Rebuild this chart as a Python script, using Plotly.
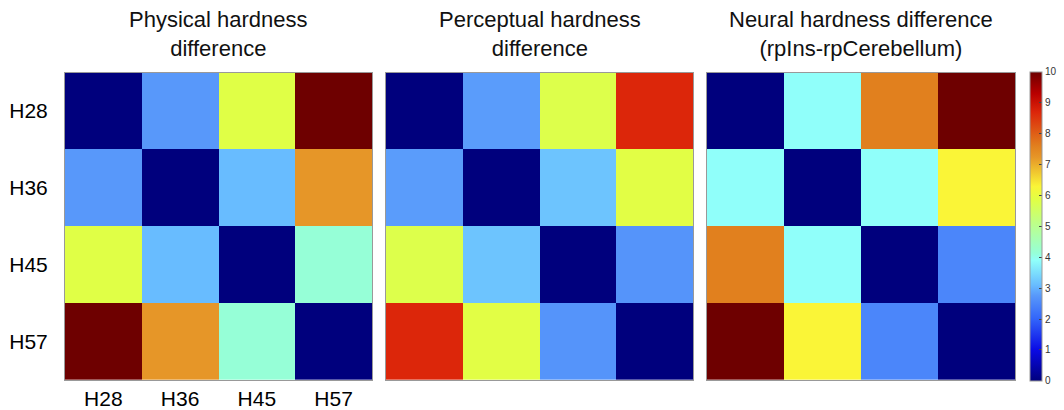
import plotly.graph_objects as go

labels = ["H28", "H36", "H45", "H57"]

physical = [
    [0.0, 2.76, 5.86, 10.0],
    [2.76, 0.0, 3.10, 7.24],
    [5.86, 3.10, 0.0, 4.14],
    [10.0, 7.24, 4.14, 0.0],
]
perceptual = [
    [0.0, 2.8, 5.8, 8.7],
    [2.8, 0.0, 3.2, 5.9],
    [5.8, 3.2, 0.0, 2.7],
    [8.7, 5.9, 2.7, 0.0],
]
neural = [
    [0.0, 3.9, 7.6, 10.0],
    [3.9, 0.0, 3.9, 6.3],
    [7.6, 3.9, 0.0, 2.5],
    [10.0, 6.3, 2.5, 0.0],
]
titles = [
    "Physical hardness<br>difference",
    "Perceptual hardness<br>difference",
    "Neural hardness difference<br>(rpIns-rpCerebellum)",
]
cbar_ticks = list(range(0, 11))

# soft jet-like colour map
jet_soft = [
    [0.00, "rgb(0,0,125)"],
    [0.10, "rgb(10,10,228)"],
    [0.20, "rgb(50,100,250)"],
    [0.276, "rgb(88,152,250)"],
    [0.31, "rgb(104,188,255)"],
    [0.39, "rgb(144,255,250)"],
    [0.414, "rgb(150,255,215)"],
    [0.50, "rgb(185,255,145)"],
    [0.586, "rgb(224,255,70)"],
    [0.63, "rgb(250,245,55)"],
    [0.724, "rgb(230,150,40)"],
    [0.76, "rgb(225,128,30)"],
    [0.87, "rgb(220,38,10)"],
    [0.93, "rgb(185,0,0)"],
    [1.00, "rgb(110,0,0)"],
]

W, H = 1064, 410
panel_px = [(65, 372), (386, 693), (707, 1015)]
y_top, y_bot = 73, 382
y_dom = [(H - y_bot) / H, (H - y_top) / H]

FONT = "Liberation Sans, Arial, Helvetica, sans-serif"

fig = go.Figure()
layout = dict(
    width=W, height=H,
    margin=dict(l=0, r=0, t=0, b=0),
    paper_bgcolor="white", plot_bgcolor="white",
    font=dict(family=FONT, color="black"),
    annotations=[],
)

for i, (z, (x0, x1), title) in enumerate(zip([physical, perceptual, neural], panel_px, titles)):
    xa = "x" if i == 0 else f"x{i+1}"
    ya = "y" if i == 0 else f"y{i+1}"
    fig.add_trace(go.Heatmap(
        z=z, x=labels, y=labels,
        xaxis=xa, yaxis=ya,
        zmin=0, zmax=10,
        colorscale=jet_soft,
        showscale=(i == 2),
        colorbar=dict(
            x=1030 / W, xanchor="left", xpad=0, ypad=0,
            y=(y_dom[0] + y_dom[1]) / 2, yanchor="middle",
            len=y_bot - y_top, lenmode="pixels",
            thickness=12, thicknessmode="pixels",
            outlinecolor="#999", outlinewidth=1,
            tickvals=cbar_ticks, ticks="inside", ticklen=3,
            tickcolor="#444",
            tickfont=dict(size=10, color="#333", family=FONT),
        ),
        hoverongaps=False,
    ))
    kx = "xaxis" if i == 0 else f"xaxis{i+1}"
    ky = "yaxis" if i == 0 else f"yaxis{i+1}"
    layout[kx] = dict(
        domain=[x0 / W, x1 / W], anchor=ya,
        showticklabels=(i == 0), ticks="",
        tickfont=dict(size=21),
        showline=True, mirror=True, linecolor="#999", linewidth=1,
        showgrid=False, zeroline=False, fixedrange=True,
    )
    layout[ky] = dict(
        domain=list(y_dom), anchor=xa,
        autorange="reversed",
        showticklabels=(i == 0), ticks="",
        tickfont=dict(size=21), ticklabelstandoff=12,
        showline=True, mirror=True, linecolor="#999", linewidth=1,
        showgrid=False, zeroline=False, fixedrange=True,
    )
    layout["annotations"].append(dict(
        text=title, xref="paper", yref="paper",
        x=(x0 + x1) / 2 / W, y=(H - 63) / H,
        xanchor="center", yanchor="bottom",
        showarrow=False, font=dict(size=22, color="#111"),
    ))

fig.update_layout(**layout)
fig.write_html("out.html")
